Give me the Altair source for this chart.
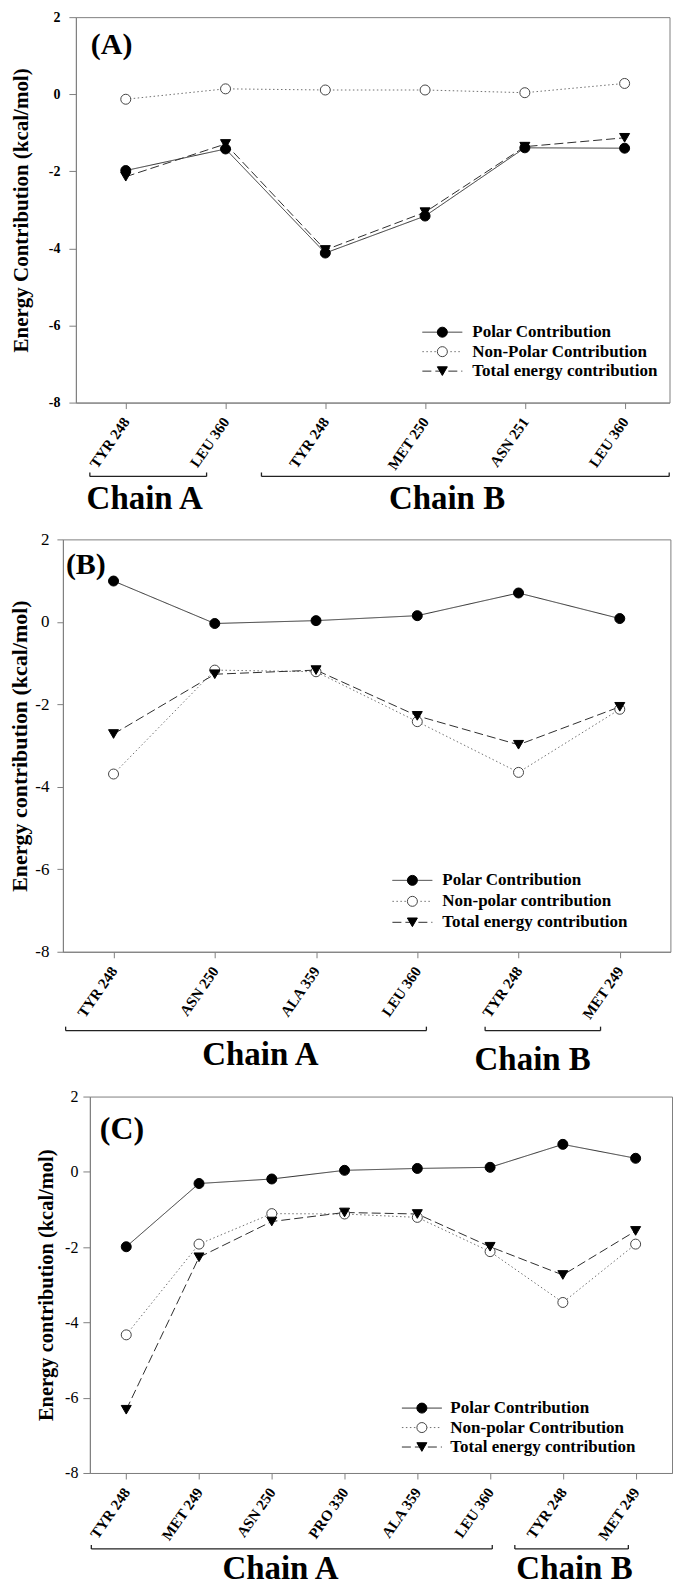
import json
import altair as alt
import pandas as pd

FONT = "Liberation Serif"

# ---------------- Panel A ----------------
A_RESIDUES = ["TYR 248", "LEU 360", "TYR 248", "MET 250", "ASN 251", "LEU 360"]
A_POLAR = [-1.98, -1.42, -4.12, -3.16, -1.39, -1.40]
A_NONPOLAR = [-0.13, 0.14, 0.11, 0.11, 0.04, 0.28]
A_TOTAL = [-2.14, -1.29, -4.04, -3.06, -1.36, -1.13]
A_SERIES = ["Polar Contribution", "Non-Polar Contribution", "Total energy contribution"]
A_CHAINS = ["Chain A", "Chain B"]
A_CHAIN_FIRST = [0, 2]
A_CHAIN_LAST = [1, 5]

# ---------------- Panel B ----------------
B_RESIDUES = ["TYR 248", "ASN 250", "ALA 359", "LEU 360", "TYR 248", "MET 249"]
B_POLAR = [0.99, -0.04, 0.03, 0.15, 0.70, 0.08]
B_NONPOLAR = [-3.69, -1.17, -1.21, -2.42, -3.65, -2.12]
B_TOTAL = [-2.72, -1.27, -1.17, -2.28, -2.98, -2.06]
B_SERIES = ["Polar Contribution", "Non-polar contribution", "Total energy contribution"]
B_CHAINS = ["Chain A", "Chain B"]
B_CHAIN_FIRST = [0, 4]
B_CHAIN_LAST = [3, 5]

# ---------------- Panel C ----------------
C_RESIDUES = ["TYR 248", "MET 249", "ASN 250", "PRO 330", "ALA 359", "LEU 360",
              "TYR 248", "MET 249"]
C_POLAR = [-1.99, -0.31, -0.19, 0.04, 0.09, 0.12, 0.73, 0.36]
C_NONPOLAR = [-4.33, -1.92, -1.11, -1.12, -1.21, -2.12, -3.47, -1.92]
C_TOTAL = [-6.32, -2.27, -1.32, -1.08, -1.12, -1.99, -2.74, -1.57]
C_SERIES = ["Polar Contribution", "Non-polar Contribution", "Total energy contribution"]
C_CHAINS = ["Chain A", "Chain B"]
C_CHAIN_FIRST = [0, 6]
C_CHAIN_LAST = [5, 7]

Y_TICKS = [2, 0, -2, -4, -6, -8]

LINE_COLORS = ["#2e2e2e", "#707070", "#2e2e2e"]
LINE_DASHES = [[1, 0], [1.5, 2.5], [9, 4]]
MARKER_SHAPES = ["circle", "circle", "triangle-down"]
MARKER_FILLS = ["black", "white", "black"]
MARKER_STROKES = ["black", "#444444", "black"]
# legend line sample: a horizontal stroke four times as wide as the marker box
LEGEND_LINE_PATH = "M-4,0H4"


def build_panel(residues, polar, nonpolar, total, series, chains, first, last, tag, st):
    n = len(residues)
    # marker keys are kept distinct from the series names so that the marker
    # legend stays separate from the line legend and can sit on top of it
    marker_keys = ["marker " + str(k) for k in range(len(series))]
    recs = []
    for name, key, vals in zip(series, marker_keys, (polar, nonpolar, total)):
        for i, v in enumerate(vals):
            recs.append({"idx": i, "value": v, "series": name, "marker": key})
    df = pd.DataFrame(recs)

    x_scale = alt.Scale(domain=[-0.5, n - 1 + st["x_right"]], nice=False, zero=False)
    x_axis = alt.Axis(
        values=list(range(n)),
        labelExpr=json.dumps(residues) + "[datum.value]",
        labelAngle=-55, labelAlign="right", labelBaseline="middle",
        labelFontSize=15, labelFontWeight="bold", labelPadding=10, labelOffset=0,
        tickSize=6, grid=False,
    )

    def xq(field):
        return alt.X(f"{field}:Q", title=None, scale=x_scale, axis=x_axis)

    y_enc = alt.Y(
        "value:Q",
        title=st["ytitle"],
        scale=alt.Scale(domain=[-8, 2], nice=False, zero=False),
        axis=alt.Axis(
            values=Y_TICKS, labelExpr="datum.value + ''", grid=False,
            labelFontSize=st["ylab_size"], labelFontWeight=st["ylab_weight"],
            labelPadding=st["ylab_pad"], tickSize=st["ytick"],
            titleFontSize=st["ytitle_size"], titleFontWeight="bold",
            titleX=st["ytitle_x"], titleBaseline="bottom",
        ),
    )

    leg_x = st["leg_cx"] - 5
    line_legend = alt.Legend(
        title=None, orient="none", legendX=leg_x, legendY=st["leg_y"],
        symbolType=LEGEND_LINE_PATH, symbolSize=100, symbolStrokeWidth=1,
        symbolFillColor="transparent",
        labelOffset=st["leg_label"] - st["leg_cx"] - 13,
        labelFont=FONT, labelFontSize=17, labelFontWeight="bold",
        labelColor="black", labelLimit=400, rowPadding=st["leg_row"], padding=0,
    )
    # markers drawn over the middle of the line samples; a blank label keeps
    # the row heights equal to those of the line legend
    marker_legend = alt.Legend(
        title=None, orient="none", legendX=leg_x, legendY=st["leg_y"],
        symbolSize=100, symbolStrokeWidth=1, symbolOpacity=1,
        labelExpr="' '", labelFont=FONT, labelFontSize=17, labelFontWeight="bold",
        labelLimit=400, rowPadding=st["leg_row"], padding=0,
    )

    base = alt.Chart(df).encode(x=xq("idx"), y=y_enc)

    lines = base.mark_line(strokeWidth=1).encode(
        color=alt.Color("series:N", scale=alt.Scale(domain=series, range=LINE_COLORS),
                        legend=line_legend),
        strokeDash=alt.StrokeDash("series:N", scale=alt.Scale(domain=series, range=LINE_DASHES),
                                  legend=line_legend),
    )
    points = base.mark_point(filled=True, size=100, opacity=1, strokeWidth=1).encode(
        shape=alt.Shape("marker:N", scale=alt.Scale(domain=marker_keys, range=MARKER_SHAPES),
                        legend=marker_legend),
        fill=alt.Fill("marker:N", scale=alt.Scale(domain=marker_keys, range=MARKER_FILLS),
                      legend=marker_legend),
        stroke=alt.Stroke("marker:N", scale=alt.Scale(domain=marker_keys, range=MARKER_STROKES),
                          legend=marker_legend),
    )

    tag_layer = alt.Chart(pd.DataFrame({"t": [tag]})).mark_text(
        font=FONT, fontSize=st["tag_size"], fontWeight="bold", align="left",
        baseline="alphabetic", color="black",
    ).encode(x=alt.value(st["tag_x"]), y=alt.value(st["tag_y"]), text="t:N")

    cdf = pd.DataFrame({"name": chains, "first": first, "last": last})
    cdf["x0"] = cdf["first"] - pd.Series(st["pad_l"])
    cdf["x1"] = cdf["last"] + pd.Series(st["pad_r"])
    cdf["xm"] = pd.Series(st["label_at"])
    cdf["ty"] = [st["h"] + d for d in st["label_dy"]]

    bracket_y = st["h"] + st["bracket_dy"]
    cbase = alt.Chart(cdf)
    bracket = cbase.mark_rule(color="#222222", strokeWidth=1.3).encode(
        x=xq("x0"), x2="x1:Q", y=alt.value(bracket_y))
    tip_l = cbase.mark_rule(color="#222222", strokeWidth=1.3).encode(
        x=xq("x0"), y=alt.value(bracket_y - 4), y2=alt.value(bracket_y))
    tip_r = cbase.mark_rule(color="#222222", strokeWidth=1.3).encode(
        x=xq("x1"), y=alt.value(bracket_y - 4), y2=alt.value(bracket_y))
    chain_text = cbase.mark_text(
        font=FONT, fontSize=33, fontWeight="bold", align="center",
        baseline="alphabetic", color="black",
    ).encode(x=xq("xm"), y=alt.Y("ty:Q", scale=None), text="name:N")

    return alt.layer(lines, points, tag_layer, bracket, tip_l, tip_r, chain_text).properties(
        width=st["w"], height=st["h"])


def spacer(w):
    return alt.Chart(pd.DataFrame({"v": [0]})).mark_point(size=1, opacity=0).encode(
        x=alt.value(1), y=alt.value(1)
    ).properties(width=w, height=1,
                 view=alt.ViewBackground(stroke="transparent", fill="transparent"))


panel_a = build_panel(
    A_RESIDUES, A_POLAR, A_NONPOLAR, A_TOTAL, A_SERIES, A_CHAINS, A_CHAIN_FIRST, A_CHAIN_LAST, "(A)",
    dict(w=594.5, h=386, x_right=0.45, ytitle="Energy Contribution (kcal/mol)",
         ylab_size=14, ylab_weight="bold", ylab_pad=9, ytick=7,
         ytitle_size=21, ytitle_x=-44,
         leg_cx=438.5, leg_label=473, leg_y=307, leg_row=1.5,
         tag_size=30, tag_x=15, tag_y=37,
         pad_l=[0.36, 0.64], pad_r=[-0.19, 0.447], label_at=[0.19, 3.22],
         bracket_dy=74, label_dy=[107, 107]),
)

panel_b = build_panel(
    B_RESIDUES, B_POLAR, B_NONPOLAR, B_TOTAL, B_SERIES, B_CHAINS, B_CHAIN_FIRST, B_CHAIN_LAST, "(B)",
    dict(w=608.4, h=413, x_right=0.5, ytitle="Energy contribution (kcal/mol)",
         ylab_size=17, ylab_weight="normal", ylab_pad=8, ytick=6,
         ytitle_size=22, ytitle_x=-31,
         leg_cx=408.5, leg_label=443, leg_y=333, leg_row=3,
         tag_size=30, tag_x=3, tag_y=35,
         pad_l=[0.473, 0.33], pad_r=[0.09, -0.19], label_at=[1.45, 4.14],
         bracket_dy=79, label_dy=[113, 118]),
)

panel_c = build_panel(
    C_RESIDUES, C_POLAR, C_NONPOLAR, C_TOTAL, C_SERIES, C_CHAINS, C_CHAIN_FIRST, C_CHAIN_LAST, "(C)",
    dict(w=583, h=377, x_right=0.5, ytitle="Energy contribution (kcal/mol)",
         ylab_size=16, ylab_weight="normal", ylab_pad=5, ytick=7,
         ytitle_size=20.5, ytitle_x=-33,
         leg_cx=418, leg_label=451, leg_y=303.5, leg_row=1.5,
         tag_size=32, tag_x=10, tag_y=43,
         pad_l=[0.48, 0.66], pad_r=[0.03, -0.10], label_at=[2.12, 6.16],
         bracket_dy=76, label_dy=[106, 106]),
)

row_a = alt.hconcat(spacer(8), panel_a, spacing=0)
row_b = alt.hconcat(spacer(6), panel_b, spacing=0)
row_c = alt.hconcat(spacer(34), panel_c, spacing=0)

INDEP = dict(color="independent", strokeDash="independent", shape="independent",
             fill="independent", stroke="independent")

upper = alt.vconcat(row_a, row_b, spacing=12).resolve_scale(**INDEP).resolve_legend(**INDEP)

chart = (
    alt.vconcat(upper, row_c, spacing=10)
    .resolve_scale(**INDEP)
    .resolve_legend(**INDEP)
    .properties(padding={"left": 0, "top": 8, "right": 0, "bottom": 0}, background="white")
    .configure_view(stroke="#808080", strokeWidth=1)
    .configure_axis(
        labelFont=FONT, titleFont=FONT, labelColor="black", titleColor="black",
        domainColor="#808080", tickColor="#808080", domainWidth=1, tickWidth=1,
    )
)

chart.save("out.html", embed_options={"renderer": "svg", "actions": False})
